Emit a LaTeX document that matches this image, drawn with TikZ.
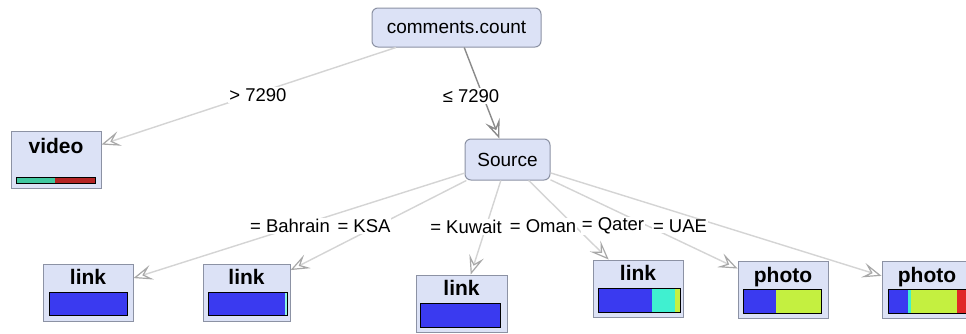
\documentclass[tikz,border=0pt]{standalone}
\usepackage{fontspec}
\setmainfont{Liberation Sans}
\usetikzlibrary{arrows.meta}
\definecolor{boxfill}{HTML}{DCE2F6}
\definecolor{boxline}{HTML}{8C92A4}
\definecolor{edgegray}{HTML}{D4D4D4}
\definecolor{arrowgray}{HTML}{A8A8A8}
\definecolor{darkedge}{HTML}{8A8A8A}
\definecolor{cblue}{HTML}{3A3AF0}
\definecolor{ccyan}{HTML}{40F0D0}
\definecolor{clime}{HTML}{C4F040}
\definecolor{cred}{HTML}{E02828}
\definecolor{cteal}{HTML}{40C8A0}
\definecolor{cdred}{HTML}{B42424}
\tikzset{
  innerbox/.style={draw=boxline, fill=boxfill, rounded corners=6pt, line width=1pt,
    font=\fontsize{19}{22}\selectfont, inner sep=0pt},
  leafbox/.style={draw=boxline, fill=boxfill, line width=1pt, inner sep=0pt,
    minimum width=90pt, minimum height=57pt},
  edge/.style={draw=edgegray, line width=1.4pt,
    -{Stealth[open, length=19pt, width=15pt, inset=8pt, color=arrowgray, line width=1.2pt]}},
  darkedgest/.style={draw=darkedge, line width=1.4pt,
    -{Stealth[open, length=19pt, width=15pt, inset=8pt, color=darkedge, line width=1.4pt]}},
  lbl/.style={fill=white, inner sep=1pt, font=\fontsize{18.5}{20}\selectfont},
  leaftitle/.style={font=\bfseries\fontsize{21}{24}\selectfont, anchor=base, inner sep=0pt},
  bar/.style={draw=black, line width=0.9pt}
}
\begin{document}
\begin{tikzpicture}[x=1pt,y=-1pt]
\useasboundingbox[fill=white] (0,0) rectangle (966,333);

% internal nodes
\node[innerbox, minimum width=169pt, minimum height=39pt] (root) at (456.5,27.5) {comments.count};
\node[innerbox, minimum width=85pt, minimum height=41pt] (src) at (507.5,159.5) {Source};

% leaves
\node[leafbox] (video) at (56,159.5) {};
\node[leafbox] (l1) at (88,292.5) {};
\node[leafbox, minimum width=87pt] (l2) at (246.5,292.5) {};
\node[leafbox, minimum width=91pt] (l3) at (461.5,303.5) {};
\node[leafbox] (l4) at (638,288.5) {};
\node[leafbox] (p1) at (783,290) {};
\node[leafbox] (p2) at (927,290) {};

% edges
\draw[edge] (root) -- (video);
\draw[darkedgest] (root) -- (src);
\draw[edge] (src) -- (l1);
\draw[edge] (src) -- (l2);
\draw[edge] (src) -- (l3);
\draw[edge] (src) -- (l4);
\draw[edge] (src) -- (p1);
\draw[edge] (src) -- (p2);

% edge labels
\node[lbl] (t1) at (258,95) {> 7290};
\node[lbl] (t2) at (471,96) {≤ 7290};
\node[lbl] (t3) at (290,226) {= Bahrain};
\node[lbl] (t4) at (364,226) {= KSA};
\node[lbl] (t5) at (466,227) {= Kuwait};
\node[lbl] (t6) at (543,226) {= Oman};
\node[lbl] (t7) at (613,226) {= Qater};
\node[lbl] (t8) at (680,226) {= UAE};

% leaf titles
\node[leaftitle] (vt) at ([yshift=-23pt]video.north) {video};
\node[leaftitle] (l1t) at ([yshift=-21pt]l1.north) {link};
\node[leaftitle] (l2t) at ([yshift=-21pt]l2.north) {link};
\node[leaftitle] (l3t) at ([yshift=-21pt]l3.north) {link};
\node[leaftitle] (l4t) at ([yshift=-21pt]l4.north) {link};
\node[leaftitle] (p1t) at ([yshift=-21pt]p1.north) {photo};
\node[leaftitle] (p2t) at ([yshift=-21pt]p2.north) {photo};

% bars
\fill[cteal] (16,177) rectangle (55,183);
\fill[cdred] (55,177) rectangle (95,183);
\draw[bar] (16,177) rectangle (95,183);

\fill[cblue] (49,292) rectangle (127,315);
\draw[bar] (49,292) rectangle (127,315);

\fill[cblue] (208,292) rectangle (285,315);
\fill[ccyan!60!white] (285,292) rectangle (287,315);
\draw[bar] (208,292) rectangle (287,315);

\fill[cblue] (420,303) rectangle (500,327);
\draw[bar] (420,303) rectangle (500,327);

\fill[cblue] (598,288) rectangle (652,312);
\fill[ccyan] (652,288) rectangle (675,312);
\fill[clime] (675,288) rectangle (680,312);
\draw[bar] (598,288) rectangle (680,312);

\fill[cblue] (743,289) rectangle (776,313);
\fill[clime] (776,289) rectangle (821,313);
\draw[bar] (743,289) rectangle (821,313);

\fill[cblue] (888,289) rectangle (908,313);
\fill[ccyan] (908,289) rectangle (911,313);
\fill[clime] (911,289) rectangle (957,313);
\fill[cred] (957,289) rectangle (966,313);
\draw[bar] (888,289) rectangle (966,313);
\end{tikzpicture}
\end{document}
